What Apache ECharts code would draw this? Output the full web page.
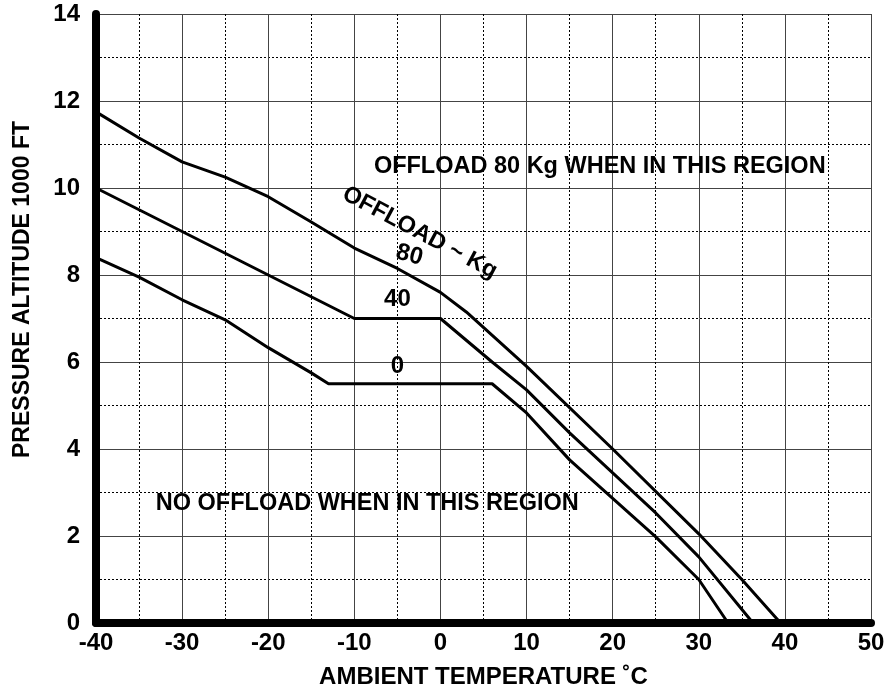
<!DOCTYPE html>
<html>
<head>
<meta charset="utf-8">
<script src="https://cdn.jsdelivr.net/npm/echarts@6/dist/echarts.min.js"></script>
<style>
  html, body { margin: 0; padding: 0; background: #fff; }
  #chart { width: 891px; height: 694px; }
</style>
</head>
<body>
<div id="chart"></div>
<script>
// 卸载曲线 [温度 °C, 压力高度 1000 ft]
const offload80 = [
  [-40, 11.75], [-35, 11.15], [-30, 10.6], [-25, 10.25], [-20, 9.8], [-15, 9.22],
  [-10, 8.62], [-5, 8.15], [0, 7.6], [3, 7.15], [10, 5.9], [20, 4.0],
  [30, 2.05], [35, 1.0], [39.5, 0]
];
const offload40 = [
  [-40, 10.0], [-30, 9.0], [-20, 8.0], [-10, 7.0], [0, 7.0], [6, 6.0],
  [10, 5.36], [15, 4.37], [25, 2.53], [30, 1.52], [36.3, 0]
];
const offload0 = [
  [-40, 8.4], [-35, 7.95], [-30, 7.43], [-25, 6.97], [-20, 6.33], [-15, 5.75],
  [-13, 5.5], [6, 5.5], [10, 4.83], [15, 3.75], [25, 1.98], [30, 1.0], [33.4, 0]
];

// 注释文字 [x, y, 文字, 旋转角]
const notes = [
  [18.5, 10.5, 'OFFLOAD 80 Kg WHEN IN THIS REGION', 0],
  [-8.5, 2.74, 'NO OFFLOAD WHEN IN THIS REGION', 0],
  [-2.4, 8.97, 'OFFLOAD ~ Kg', -28],
  [-3.6, 8.46, '80', -15],
  [-5.0, 7.45, '40', 0],
  [-5.0, 5.9, '0', 0]
];

const FONT = '"Liberation Sans", Arial, Helvetica, sans-serif';

const myChart = echarts.init(document.getElementById('chart'));

function curve(name, data) {
  return {
    name,
    type: 'line',
    data,
    showSymbol: false,
    symbol: 'none',
    lineStyle: { color: '#000', width: 3 },
    itemStyle: { color: '#000' },
    z: 5
  };
}

const option = {
  backgroundColor: '#fff',
  animation: false,
  grid: { left: 96, right: 20, top: 14, bottom: 71, outerBoundsMode: 'none' },
  xAxis: {
    type: 'value',
    min: -40,
    max: 50,
    interval: 10,
    name: 'AMBIENT TEMPERATURE ˚C',
    nameLocation: 'middle',
    nameGap: 42,
    nameTextStyle: { fontFamily: FONT, fontWeight: 'bold', fontSize: 24, color: '#000' },
    axisLine: { onZero: false, lineStyle: { color: '#000', width: 8 } },
    axisTick: { show: false },
    axisLabel: { fontFamily: FONT, fontWeight: 'bold', fontSize: 24, color: '#000', margin: 8 },
    splitLine: { show: true, lineStyle: { color: '#444', width: 1 } },
    minorTick: { show: false, splitNumber: 2 },
    minorSplitLine: { show: true, lineStyle: { color: '#000', width: 1, type: [2, 2] } }
  },
  yAxis: {
    type: 'value',
    min: 0,
    max: 14,
    interval: 2,
    name: 'PRESSURE ALTITUDE 1000 FT',
    nameLocation: 'middle',
    nameGap: 62,
    nameTextStyle: { fontFamily: FONT, fontWeight: 'bold', fontSize: 23, color: '#000', padding: [0, 0, 0, 58] },
    axisLine: { onZero: false, lineStyle: { color: '#000', width: 8 } },
    axisTick: { show: false },
    axisLabel: { fontFamily: FONT, fontWeight: 'bold', fontSize: 24, color: '#000', margin: 16 },
    splitLine: { show: true, lineStyle: { color: '#444', width: 1 } },
    minorTick: { show: false, splitNumber: 2 },
    minorSplitLine: { show: true, lineStyle: { color: '#000', width: 1, type: [2, 2] } }
  },
  series: [
    curve('80', offload80),
    curve('40', offload40),
    curve('0', offload0),
    {
      name: 'notes',
      type: 'scatter',
      symbolSize: 0,
      silent: true,
      z: 6,
      itemStyle: { color: '#000', opacity: 1 },
      data: notes.map(n => ({
        value: [n[0], n[1]],
        label: {
          show: true,
          position: 'inside',
          formatter: n[2],
          rotate: n[3],
          fontFamily: FONT,
          fontWeight: 'bold',
          fontSize: n[2].length > 3 ? 23.5 : 24,
          color: '#000',
          opacity: 1,
          textBorderWidth: 0
        }
      }))
    }
  ]
};

myChart.setOption(option);
</script>
</body>
</html>
